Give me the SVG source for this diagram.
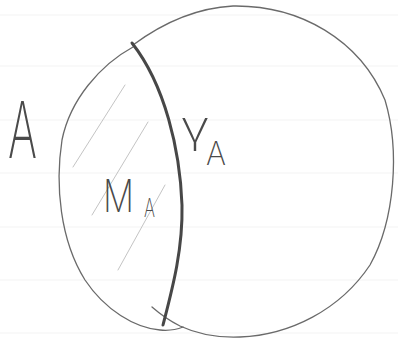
<svg xmlns="http://www.w3.org/2000/svg" width="398" height="341" viewBox="0 0 398 341">
<style>
.paper{stroke:#f3f3f3;stroke-width:1}
.thin{fill:none;stroke:#6a6a6a;stroke-width:1.3;stroke-linecap:round}
.thick{fill:none;stroke:#474747;stroke-width:3;stroke-linecap:round}
.hatch{fill:none;stroke:#c4c4c4;stroke-width:1;stroke-linecap:round}
.lbl{font-family:"Inter","DejaVu Sans",sans-serif;font-weight:200;fill:#4a4a4a}
</style>
<rect width="398" height="341" fill="#ffffff"/>
<g id="paper">
<line class="paper" x1="0" y1="15" x2="398" y2="15"/>
<line class="paper" x1="0" y1="66" x2="398" y2="66"/>
<line class="paper" x1="0" y1="120" x2="398" y2="120"/>
<line class="paper" x1="0" y1="173" x2="398" y2="173"/>
<line class="paper" x1="0" y1="227" x2="398" y2="227"/>
<line class="paper" x1="0" y1="280" x2="398" y2="280"/>
<line class="paper" x1="0" y1="333" x2="398" y2="333"/>
</g>
<g id="region-A">
<path class="thin" d="M133,45 C160,25 195,8 233,6 C300,5 360,40 385,100 C400,150 395,220 370,265 C340,310 290,335 240,337 C215,338 195,333 180,326 C170,321 160,314 152,307"/>
<text class="lbl" x="8" y="158" font-size="78" font-weight="300" fill="#3c3c3c" textLength="29" lengthAdjust="spacingAndGlyphs">A</text>
</g>
<g id="region-MA">
<path class="thin" d="M133,47 C100,65 70,100 62,140 C55,185 60,240 85,280 C105,310 135,328 160,330 C170,331 178,329 183,327"/>
<line class="hatch" x1="125" y1="85" x2="73" y2="167"/>
<line class="hatch" x1="148" y1="122" x2="92" y2="215"/>
<line class="hatch" x1="165" y1="185" x2="118" y2="270"/>
<text class="lbl" x="103" y="212" font-size="45" textLength="31" lengthAdjust="spacingAndGlyphs">M</text>
<text class="lbl" x="144" y="217" font-size="26" textLength="11" lengthAdjust="spacingAndGlyphs">A</text>
</g>
<g id="connectors">
<path id="gamma-A" class="thick" d="M132,43 C165,85 180,150 182,205 C183,250 172,290 163,325"/>
</g>
<g id="label-gamma">
<text class="lbl" x="180" y="142" font-size="44" textLength="30" lengthAdjust="spacingAndGlyphs">γ</text>
<text class="lbl" x="206" y="165" font-size="32" textLength="20" lengthAdjust="spacingAndGlyphs">A</text>
</g>
</svg>
